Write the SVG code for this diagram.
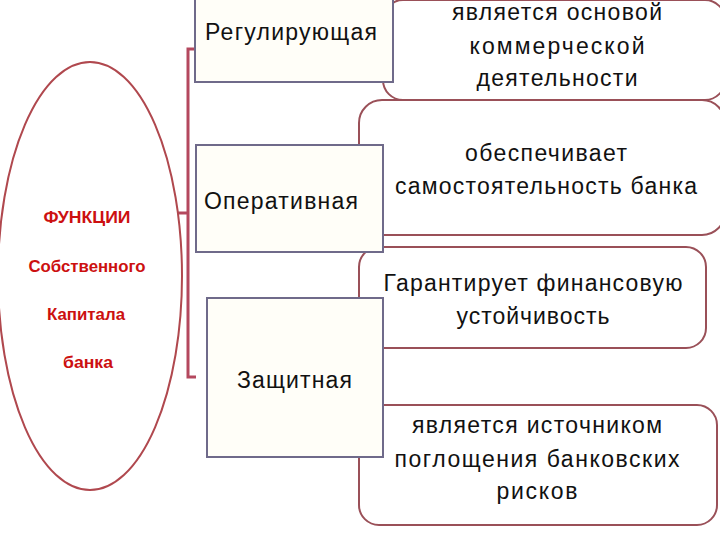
<svg xmlns="http://www.w3.org/2000/svg" width="720" height="540" viewBox="0 0 720 540">
<style>
.rb{fill:#ffffff;stroke:#9a5058;stroke-width:2}
.lb{fill:#fffef8;stroke:#6f6a8a;stroke-width:2}
.t{font-family:"Liberation Sans",Arial,sans-serif;font-size:23px;fill:#111}
.c{text-anchor:middle}
.r{font-family:"Liberation Sans",Arial,sans-serif;font-size:16.5px;font-weight:bold;fill:#cc1010;text-anchor:middle}
.con{fill:none;stroke:#b4485e;stroke-width:3}
</style>
<rect width="720" height="540" fill="#ffffff"/>
<g id="res-a">
<rect class="rb" x="383" y="0" width="342" height="100" rx="20"/>
<text class="t c" x="557" y="20" textLength="210" lengthAdjust="spacing">является основой</text>
<text class="t c" x="557" y="54" textLength="175" lengthAdjust="spacing">коммерческой</text>
<text class="t c" x="557" y="86" textLength="161" lengthAdjust="spacing">деятельности</text>
</g>
<g id="res-b">
<rect class="rb" x="359" y="100" width="366" height="135" rx="23"/>
<text class="t c" x="546" y="161" textLength="162" lengthAdjust="spacing">обеспечивает</text>
<text class="t c" x="546" y="194" textLength="302" lengthAdjust="spacing">самостоятельность банка</text>
</g>
<g id="res-c">
<rect class="rb" x="359" y="247" width="347" height="101" rx="20"/>
<text class="t c" x="533" y="291" textLength="299" lengthAdjust="spacing">Гарантирует финансовую</text>
<text class="t c" x="533" y="324" textLength="153" lengthAdjust="spacing">устойчивость</text>
</g>
<g id="res-d">
<rect class="rb" x="359" y="405" width="358" height="120" rx="20"/>
<text class="t c" x="537" y="433" textLength="250" lengthAdjust="spacing">является источником</text>
<text class="t c" x="537" y="467" textLength="285" lengthAdjust="spacing">поглощения банковских</text>
<text class="t c" x="537" y="499" textLength="81" lengthAdjust="spacing">рисков</text>
</g>
<g id="connectors">
<path class="con" d="M195 49 H188 V377 H196"/>
<path class="con" d="M178 213 H188"/>
</g>
<g id="func">
<ellipse cx="90" cy="276" rx="92" ry="214" fill="none" stroke="#b0484e" stroke-width="2"/>
<text class="r" x="87" y="223" textLength="87" lengthAdjust="spacingAndGlyphs">ФУНКЦИИ</text>
<text class="r" x="87" y="272" textLength="117" lengthAdjust="spacingAndGlyphs">Собственного</text>
<text class="r" x="86" y="320" textLength="78" lengthAdjust="spacingAndGlyphs">Капитала</text>
<text class="r" x="88" y="368" textLength="50" lengthAdjust="spacingAndGlyphs">банка</text>
</g>
<g id="regul">
<rect class="lb" x="195" y="-2" width="198" height="84"/>
<text class="t" x="205" y="40" textLength="172" lengthAdjust="spacing">Регулирующая</text>
</g>
<g id="oper">
<rect class="lb" x="196" y="145" width="187" height="107"/>
<text class="t" x="204" y="209" textLength="154" lengthAdjust="spacing">Оперативная</text>
</g>
<g id="zasch">
<rect class="lb" x="207" y="298" width="176" height="159"/>
<text class="t" x="237" y="388" textLength="115" lengthAdjust="spacing">Защитная</text>
</g>
</svg>
